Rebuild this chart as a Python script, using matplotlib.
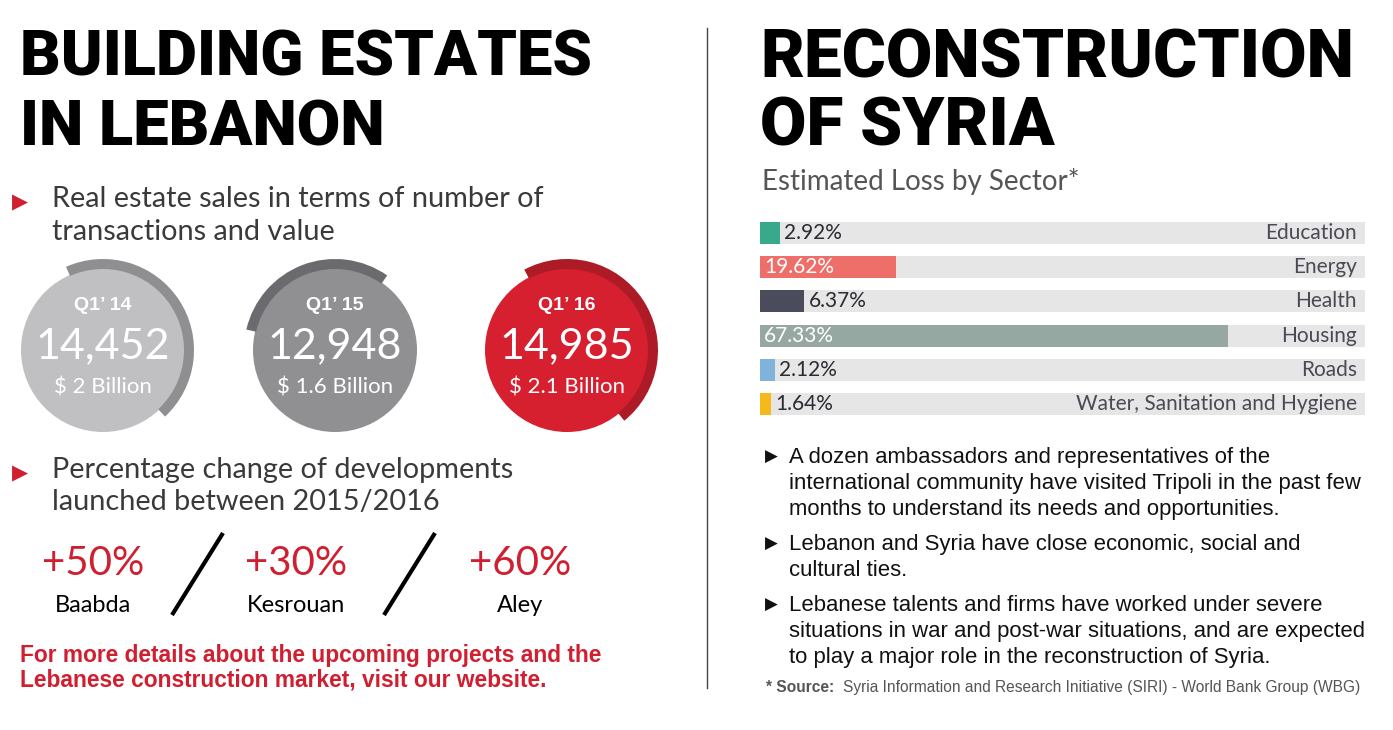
import matplotlib
matplotlib.use('Agg')
import matplotlib.pyplot as plt
from matplotlib.patches import Circle, Wedge
import numpy as np

# ---- left panel data ----
quarters = ["Q1\u2019 14", "Q1\u2019 15", "Q1\u2019 16"]
transactions = [14452, 12948, 14985]
sales_bn = ["2", "1.6", "2.1"]
regions = ["Baabda", "Kesrouan", "Aley"]
dev_change = [50, 30, 60]

# ---- right panel data ----
sectors = ["Education", "Energy", "Health", "Housing", "Roads",
           "Water, Sanitation and Hygiene"]
loss_pct = [2.92, 19.62, 6.37, 67.33, 2.12, 1.64]
sector_colors = ["#39a98b", "#ee6e69", "#4a4b5b", "#97a8a3", "#7fb3dc", "#f6b91b"]

bullets = [
    ["A dozen ambassadors and representatives of the",
     "international community have visited Tripoli in the past few",
     "months to understand its needs and opportunities."],
    ["Lebanon and Syria have close economic, social and",
     "cultural ties."],
    ["Lebanese talents and firms have worked under severe",
     "situations in war and post-war situations, and are expected",
     "to play a major role in the reconstruction of Syria."],
]
source_txt = "Syria Information and Research Initiative (SIRI) - World Bank Group (WBG)"

W, H = 1393, 730
RED = '#d01f30'
TITLE = dict(family=['Roboto', 'DejaVu Sans'], weight='black', color='black')
LIGHT = dict(family=['Lato', 'DejaVu Sans'], weight='normal')
BODY = dict(family=['Liberation Sans', 'DejaVu Sans'])

fig = plt.figure(figsize=(W / 100, H / 100), dpi=100)
ax = fig.add_axes([0, 0, 1, 1])
ax.set_xlim(0, W)
ax.set_ylim(H, 0)
ax.axis('off')

# titles
ax.text(20, 76, "BUILDING ESTATES", fontsize=45.5, va='baseline', **TITLE)
ax.text(20, 145, "IN LEBANON", fontsize=45.5, va='baseline', **TITLE)
ax.text(760, 78, "RECONSTRUCTION", fontsize=48.5, va='baseline', **TITLE)
ax.text(760, 145, "OF SYRIA", fontsize=48.5, va='baseline', **TITLE)

# divider
ax.plot([707, 707], [28, 688], color='#444444', lw=1)

# ---- left: sales circles ----
ax.text(12, 202, "\u25B6", color=RED, fontsize=15, va='center', family='DejaVu Sans')
ax.text(52, 207, "Real estate sales in terms of number of", fontsize=20.8,
        color='#3a3a3a', va='baseline', **LIGHT)
ax.text(52, 240, "transactions and value", fontsize=20.8,
        color='#3a3a3a', va='baseline', **LIGHT)

fills = ['#c0c0c2', '#909093', '#d61f2f']
rings = ['#8f8f92', '#6b6b6f', '#ad1b27']
ring_span = [(-47, 114), (55, 167), (-51, 118)]
for i in range(len(quarters)):
    cx, cy = 103 + i * 232, 350
    ax.add_patch(Circle((cx, cy), 82, color=fills[i], lw=0))
    a1, a2 = ring_span[i]
    # y axis is flipped, so angles are mirrored
    ax.add_patch(Wedge((cx, cy), 91, -a2, -a1, width=10, color=rings[i], lw=0))
    ax.text(cx, 305, quarters[i], ha='center', va='center', color='white',
            fontsize=14, weight='bold', family=['Liberation Sans', 'DejaVu Sans'])
    ax.text(cx, 346, f"{transactions[i]:,}", ha='center', va='center',
            color='white', fontsize=31, **LIGHT)
    ax.text(cx, 388, f"$ {sales_bn[i]} Billion", ha='center', va='center',
            color='white', fontsize=16, **LIGHT)

# ---- left: development change ----
ax.text(12, 473, "\u25B6", color=RED, fontsize=15, va='center', family='DejaVu Sans')
ax.text(52, 478, "Percentage change of developments", fontsize=20.8,
        color='#3a3a3a', va='baseline', **LIGHT)
ax.text(52, 510, "launched between 2015/2016", fontsize=20.8,
        color='#3a3a3a', va='baseline', **LIGHT)

reg_x = [93, 296, 520]
for i in range(len(regions)):
    ax.text(reg_x[i], 575, f"+{dev_change[i]}%", ha='center', va='baseline',
            color=RED, fontsize=29, **LIGHT)
    ax.text(reg_x[i], 612, regions[i], ha='center', va='baseline',
            color='black', fontsize=17, **LIGHT)
for x0 in (172, 384):
    ax.plot([x0, x0 + 51], [615, 533], color='black', lw=3, solid_capstyle='butt')

ax.text(20, 662, "For more details about the upcoming projects and the",
        color=RED, fontsize=16.4, weight='bold', va='baseline', **BODY)
ax.text(20, 686, "Lebanese construction market, visit our website.",
        color=RED, fontsize=16.4, weight='bold', va='baseline', **BODY)

# ---- right: loss by sector ----
ax.text(762, 190, "Estimated Loss by Sector*", fontsize=20, color='#555555',
        va='baseline', **LIGHT)

xmax = 87
bax = fig.add_axes([760 / W, 1 - 421 / H, 605 / W, 205 / H])
ypos = np.arange(len(sectors))
bax.barh(ypos, [xmax] * len(sectors), height=0.64, color='#e6e6e7', lw=0)
bax.barh(ypos, loss_pct, height=0.64, color=sector_colors, lw=0)
bax.set_xlim(0, xmax)
bax.set_ylim(len(sectors) - 0.5, -0.5)
bax.axis('off')
for i, (s, v) in enumerate(zip(sectors, loss_pct)):
    if v > 10:
        bax.text(0.6, i, f"{v:.2f}%", va='center', ha='left', fontsize=15,
                 color='white', family=['Lato', 'DejaVu Sans'])
    else:
        # label sits just past the end of a short bar
        bax.text(v + 0.6, i, f"{v:.2f}%", va='center', ha='left', fontsize=15,
                 color='#2a2a30', family=['Lato', 'DejaVu Sans'])
    bax.text(xmax - 1.2, i, s, va='center', ha='right', fontsize=15,
             color='#4a4a55', family=['Lato', 'DejaVu Sans'])

# bullets
line_y = 463
for para in bullets:
    ax.text(765, line_y - 6, "\u25B6", fontsize=12, va='center', color='#111111',
            family='DejaVu Sans')
    for ln in para:
        ax.text(789, line_y, ln, fontsize=15.9, va='baseline', color='#111111', **BODY)
        line_y += 26
    line_y += 9

ax.text(766, 692, "* Source:", fontsize=11.2, weight='bold', color='#555555',
        va='baseline', **BODY)
ax.text(843, 692, source_txt, fontsize=11.2, color='#555555', va='baseline', **BODY)

fig.savefig('out.png', dpi=100)
